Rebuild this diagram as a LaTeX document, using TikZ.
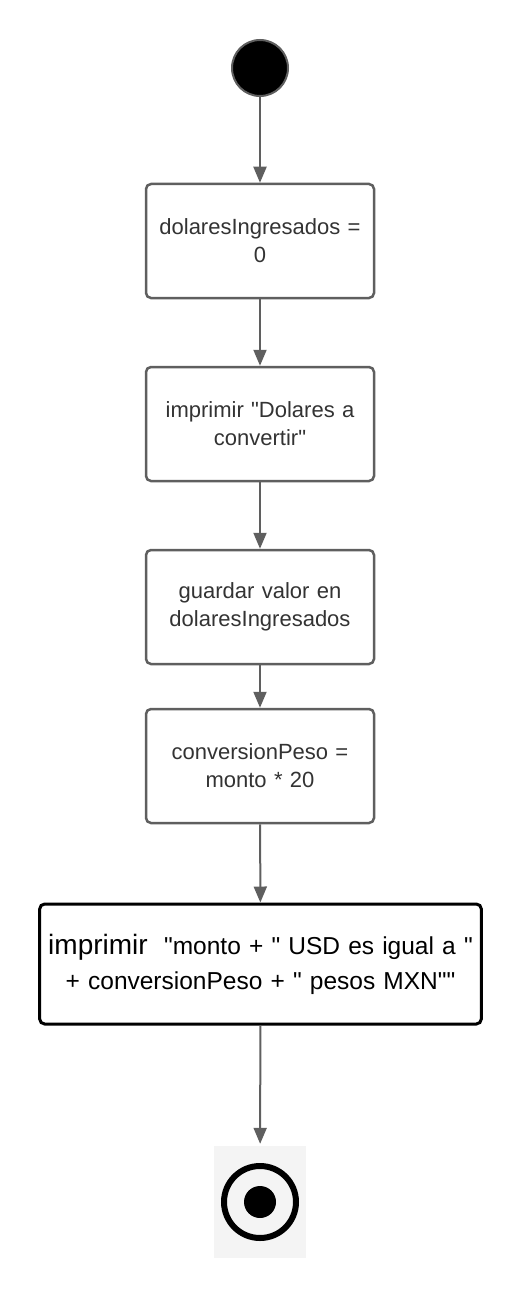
\documentclass[tikz,border=0pt]{standalone}
\usepackage{fontspec}
\setmainfont{Liberation Sans}[Ligatures=TeXOff]
\usetikzlibrary{arrows.meta}

\definecolor{linegray}{HTML}{5F5F5F}
\definecolor{textgray}{HTML}{333333}
\definecolor{bggray}{HTML}{F4F4F4}

\tikzset{
  accion/.style={draw=linegray,line width=2.5pt,rounded corners=5pt,fill=white,
    minimum width=228pt,minimum height=114pt,text width=215pt,align=center,
    text=textgray,font=\fontsize{22}{28}\selectfont},
  flujo/.style={draw=linegray,line width=2pt,-{Triangle[length=16pt,width=13pt]}}
}

\begin{document}
\begin{tikzpicture}[x=1pt,y=-1pt]
                \useasboundingbox (0,0) rectangle (520,1300);

                % inicio
                \node[circle,fill=black,draw=linegray,line width=2pt,minimum size=56pt,inner sep=0pt] (inicio) at (260,68) {};

                % acciones
                \node[accion] (uno) at (260,241) {dolaresIngresados =\\0};
                \node[accion] (dos) at (260,424) {imprimir "Dolares a\\convertir"};
                \node[accion] (tres) at (260,607) {guardar valor en\\dolaresIngresados};
                \node[accion] (cuatro) at (260,766) {conversionPeso =\\monto * 20};
                \node[accion,draw=black,line width=3pt,minimum width=441pt,minimum height=120pt,
                      text width=435pt,text=black,font=\fontsize{24.5}{35}\selectfont] (cinco) at (260.5,964)
                      {{\fontsize{28}{35}\selectfont imprimir}\ \ "monto + " USD es igual a "\\+ conversionPeso + " pesos MXN""};

                % fin
                \node[fill=bggray,minimum width=92pt,minimum height=112pt,inner sep=0pt] (fin) at (260,1202) {};
                \draw[black,line width=6pt] (fin.center) circle (36pt);
                \fill[black] (fin.center) circle (16pt);

                % flechas
                \draw[flujo] (inicio) -- (uno);
                \draw[flujo] (uno) -- (dos);
                \draw[flujo] (dos) -- (tres);
                \draw[flujo] (tres) -- (cuatro);
                \draw[flujo] (cuatro) -- (cinco);
                \draw[flujo,shorten >=2pt] (cinco) -- (fin);
\end{tikzpicture}
\end{document}
